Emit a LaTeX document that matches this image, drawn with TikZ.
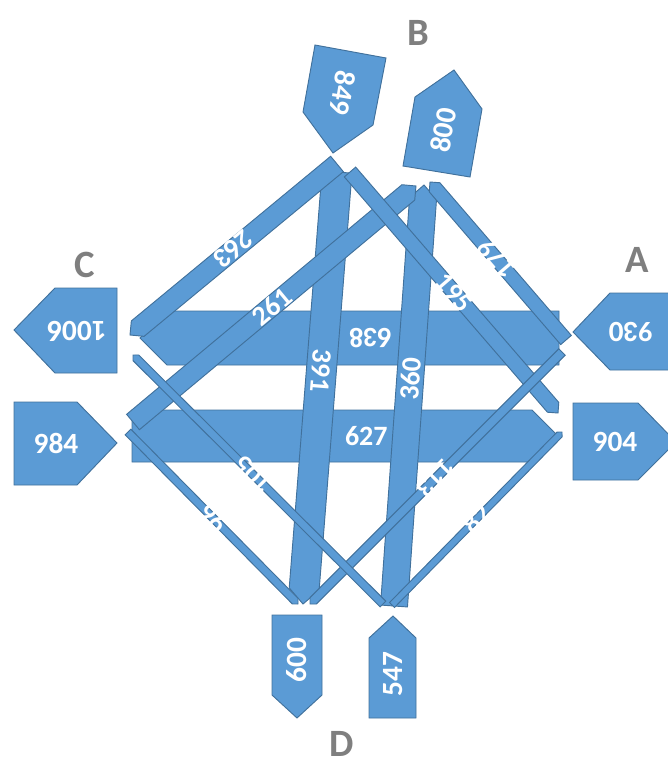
\documentclass[tikz,border=0pt]{standalone}
\usepackage{fontspec}
\setmainfont{Carlito}
\usetikzlibrary{calc}
\definecolor{flowblue}{HTML}{5B9BD5}
\definecolor{flowedge}{HTML}{41719C}
\definecolor{sidegray}{HTML}{7F7F7F}
\tikzset{
  band/.style      = {draw=flowedge, fill=flowblue, line width=0.7pt, line join=miter},
  port/.style      = {draw=flowedge, fill=flowblue, line width=0.7pt},
  flowlabel/.style = {text=white, inner sep=0pt, sloped, allow upside down,
                      font=\fontsize{21}{21}\selectfont\bfseries},
  portlabel/.style = {text=white, inner sep=0pt, font=\fontsize{22}{22}\selectfont\bfseries},
  side/.style      = {text=sidegray, inner sep=0pt, font=\fontsize{29}{29}\selectfont\bfseries}
}
% one flow: name, start, end, width (px)
\newcommand{\flowband}[4]{%
  \coordinate (#1s) at #2;
  \coordinate (#1e) at #3;
  \coordinate (#1b) at ($(#1e)!#4*0.375pt!(#1s)$);
  \draw[band] ($(#1s)!#4*0.375pt!90:(#1e)$) -- ($(#1b)!#4*0.375pt!-90:(#1s)$) -- (#1e)
    -- ($(#1b)!#4*0.375pt!90:(#1s)$) -- ($(#1s)!#4*0.375pt!-90:(#1e)$) -- cycle;
}

\begin{document}
\begin{tikzpicture}[x=0.75pt, y=-0.75pt]
\useasboundingbox (0,0) rectangle (667,763);

% side names
\node[side] (sideA) at (637,260) {A};
\node[side] (sideB) at (418,33) {B};
\node[side] (sideC) at (85,265) {C};
\node[side] (sideD) at (342,744) {D};

% ports B
\draw[port] (315,45) -- (386,58) -- (373,125) -- (333,153) -- (303,112) -- cycle;
\node[portlabel, rotate=-99.5] (inB) at (343,93) {849};
\draw[port] (454,70) -- (482,109) -- (470,177) -- (403,166) -- (415,97) -- cycle;
\node[portlabel, rotate=80] (outB) at (443,130) {800};
% ports C
\draw[port] (117,288) -- (55,288) -- (14,330) -- (55,373) -- (117,373) -- cycle;
\node[portlabel, rotate=180] (outC) at (77,331) {1006};
\draw[port] (14,402) -- (77,402) -- (117,443) -- (77,485) -- (14,485) -- cycle;
\node[portlabel] (inC) at (56,443) {984};
% ports A
\draw[port] (573,332) -- (610,293) -- (675,293) -- (675,370) -- (610,370) -- cycle;
\node[portlabel, rotate=180] (inA) at (631,332) {930};
\draw[port] (573,403) -- (638,403) -- (676,442) -- (638,480) -- (573,480) -- cycle;
\node[portlabel] (outA) at (615,442) {904};
% ports D
\draw[port] (272,615) -- (322,615) -- (322,695) -- (297,718) -- (272,695) -- cycle;
\node[portlabel, rotate=90] (outD) at (297,660) {600};
\draw[port] (369,638) -- (393,616) -- (416,638) -- (416,718) -- (369,718) -- cycle;
\node[portlabel, rotate=90] (inD) at (393,674) {547};

% flows
\flowband{f638}{(559,338)}{(140,338)}{54}
\flowband{f627}{(132,436)}{(558,436)}{52}
\flowband{f391}{(337,172)}{(303,604)}{30}
\flowband{f360}{(394,606)}{(424,185)}{27}
\flowband{f263}{(337,164)}{(130,335)}{20}
\flowband{f261}{(133,422)}{(416,186)}{20}
\flowband{f195}{(350,172)}{(558,413)}{15}
\flowband{f179}{(566,340)}{(430,182)}{14}
\flowband{f113}{(562,352)}{(310,604)}{9}
\flowband{f105}{(383,604)}{(133,355)}{8}
\flowband{f96}{(128,432)}{(298,604)}{8}
\flowband{f82}{(392,605)}{(562,432)}{7}

% flow labels
\path (f638s) -- (f638e) node[flowlabel, pos=0.45] (l638) {638};
\path (f627s) -- (f627e) node[flowlabel, pos=0.55] (l627) {627};
\path (f391s) -- (f391e) node[flowlabel, pos=0.46] (l391) {391};
\path (f360s) -- (f360e) node[flowlabel, pos=0.54] (l360) {360};
\path (f263s) -- (f263e) node[flowlabel, pos=0.50] (l263) {263};
\path (f261s) -- (f261e) node[flowlabel, pos=0.49] (l261) {261};
\path (f195s) -- (f195e) node[flowlabel, pos=0.50] (l195) {195};
\path (f179s) -- (f179e) node[flowlabel, pos=0.51] (l179) {179};
\path (f113s) -- (f113e) node[flowlabel, pos=0.50] (l113) {113};
\path (f105s) -- (f105e) node[flowlabel, pos=0.52] (l105) {105};
\path (f96s) -- (f96e) node[flowlabel, pos=0.50] (l96) {96};
\path (f82s) -- (f82e) node[flowlabel, pos=0.50] (l82) {82};
\end{tikzpicture}
\end{document}
